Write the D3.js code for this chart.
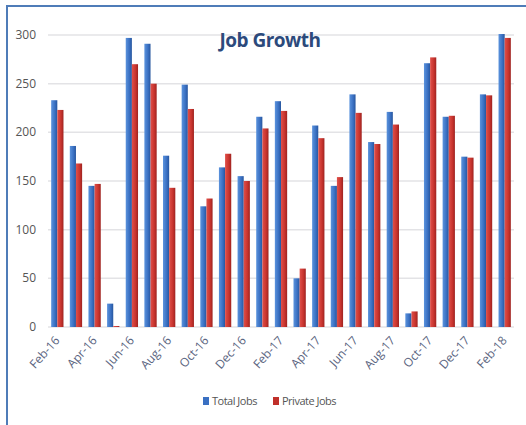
<!DOCTYPE html>
<html>
<head>
<meta charset="utf-8">
<script src="https://cdn.jsdelivr.net/npm/d3@7"></script>
<style>
  body { margin: 0; background: #fff; }
  svg { display: block; font-family: "Open Sans", "DejaVu Sans", sans-serif; }
</style>
</head>
<body>
<script>
// months, Feb-16 .. Feb-18
const months = ['Feb-16','Mar-16','Apr-16','May-16','Jun-16','Jul-16','Aug-16','Sep-16','Oct-16','Nov-16','Dec-16',
  'Jan-17','Feb-17','Mar-17','Apr-17','May-17','Jun-17','Jul-17','Aug-17','Sep-17','Oct-17','Nov-17','Dec-17',
  'Jan-18','Feb-18'];
const totalJobs   = [233,186,145,24,297,291,176,249,124,164,155,216,232,50,207,145,239,190,221,14,271,216,175,239,301];
const privateJobs = [223,168,147,1,270,250,143,224,132,178,150,204,222,60,194,154,220,188,208,16,277,217,174,238,297];
const series = ['Total Jobs', 'Private Jobs'];
const yTicks = [0, 50, 100, 150, 200, 250, 300];

const W = 526, H = 425;
const plotLeft = 48, plotRight = 514, plotTop = 35, plotBottom = 327;

const svg = d3.select('body').append('svg').attr('width', W).attr('height', H);

// gradients for the 3d-ish bars
const defs = svg.append('defs');
const grads = [['gBlue', '#5b93dd', '#3a70c2', '#27569e'], ['gRed', '#e0504a', '#c8342e', '#9e2320']];
grads.forEach(([id, a, b, c]) => {
  const g = defs.append('linearGradient').attr('id', id).attr('x1', 0).attr('x2', 1).attr('y1', 0).attr('y2', 0);
  g.append('stop').attr('offset', '0%').attr('stop-color', a);
  g.append('stop').attr('offset', '60%').attr('stop-color', b);
  g.append('stop').attr('offset', '100%').attr('stop-color', c);
});

// frame
svg.append('line').attr('x1', 7).attr('x2', 7).attr('y1', 6).attr('y2', H).attr('stroke', '#4f7cb8').attr('stroke-width', 2);
svg.append('line').attr('x1', 6).attr('x2', W).attr('y1', 6).attr('y2', 6).attr('stroke', '#4f7cb8').attr('stroke-width', 2);

const x = d3.scaleBand().domain(months).range([plotLeft, plotRight]).paddingInner(0.34).paddingOuter(0.17);
const xs = d3.scaleBand().domain(series).range([0, x.bandwidth()]);
const y = d3.scaleLinear().domain([0, 300]).range([plotBottom, plotTop]);

// grid lines + y labels
svg.append('g').selectAll('line').data(yTicks).join('line')
  .attr('x1', plotLeft).attr('x2', plotRight)
  .attr('y1', d => y(d)).attr('y2', d => y(d))
  .attr('stroke', '#e3e3e6').attr('stroke-width', 1.5);

svg.append('g').selectAll('text').data(yTicks).join('text')
  .attr('x', 36).attr('y', d => y(d) + 4)
  .attr('text-anchor', 'end')
  .attr('font-size', 12).attr('fill', '#555')
  .text(d => d);

// bars
const groups = svg.append('g').selectAll('g').data(months).join('g')
  .attr('transform', d => `translate(${x(d)},0)`);

groups.selectAll('rect')
  .data((d, i) => [{s: 'Total Jobs', v: totalJobs[i]}, {s: 'Private Jobs', v: privateJobs[i]}])
  .join('rect')
  .attr('x', d => xs(d.s))
  .attr('width', xs.bandwidth())
  .attr('y', d => y(d.v))
  .attr('height', d => y(0) - y(d.v))
  .attr('fill', d => d.s === 'Total Jobs' ? 'url(#gBlue)' : 'url(#gRed)');

// x labels, every other month
svg.append('g').selectAll('text').data(months.filter((d, i) => i % 2 === 0)).join('text')
  .attr('transform', d => `translate(${x(d) + x.bandwidth() / 2 + 3},341) rotate(-48)`)
  .attr('text-anchor', 'end')
  .attr('font-size', 12).attr('fill', '#5a6480')
  .text(d => d);

// title
svg.append('text').attr('x', 270).attr('y', 47)
  .attr('text-anchor', 'middle')
  .attr('font-size', 19).attr('font-weight', 'bold').attr('fill', '#2c4a7c')
  .style('letter-spacing', '-0.5px')
  .text('Job Growth');

// legend
const legend = svg.append('g').attr('transform', 'translate(203,403)');
const lx = [0, 70];
series.forEach((s, i) => {
  legend.append('rect').attr('x', lx[i]).attr('y', -6).attr('width', 6).attr('height', 8)
    .attr('fill', i === 0 ? '#3a70c2' : '#c0302a');
  legend.append('text').attr('x', lx[i] + 9).attr('y', 2)
    .attr('font-size', 11).attr('fill', '#555').style('letter-spacing', '-0.5px')
    .text(s);
});
</script>
</body>
</html>
